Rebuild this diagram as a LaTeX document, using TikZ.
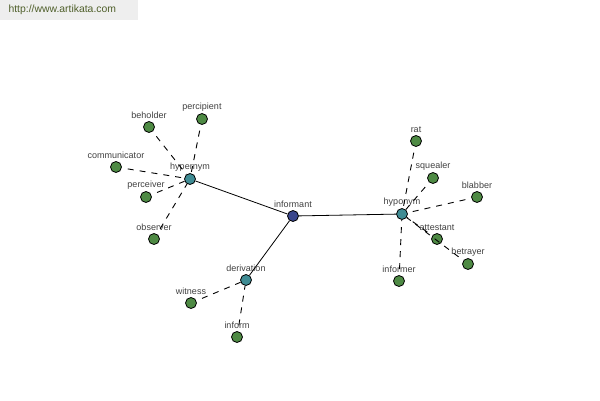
\documentclass[tikz,border=0pt]{standalone}
\usepackage{fontspec}
\setmainfont{Liberation Sans}
\definecolor{leafgreen}{HTML}{4E8A44}
\definecolor{hubteal}{HTML}{3F8C94}
\definecolor{coreblue}{HTML}{3A468C}
\definecolor{bannergray}{HTML}{EEEEEE}
\definecolor{bannertext}{HTML}{4F5F2A}

\begin{document}
\begin{tikzpicture}[x=1pt, y=-1pt, every node/.style={font=\fontsize{9}{10}\selectfont, text=black!75},
	every label/.style={inner sep=1pt}, label distance=1pt,
	word/.style={circle, draw=black, line width=0.8pt, minimum size=11pt, inner sep=0pt},
	leaf/.style={word, fill=leafgreen}, hub/.style={word, fill=hubteal}, core/.style={word, fill=coreblue},
	link/.style={line width=0.8pt},
	rel/.style={line width=0.9pt, dash pattern=on 6pt off 6pt, shorten <=6pt}]
	\useasboundingbox (0,0) rectangle (600,400);
	\fill[bannergray] (0,0) rectangle (138,20);
	\node[anchor=west, text=bannertext, font=\fontsize{10.4}{12}\selectfont] (site) at (5,10) {http://www.artikata.com};

	\node[core, label=above:informant] (informant) at (293,216) {};
	\node[hub, label=above:hypernym] (hypernym) at (190,179) {};
	\node[hub, label=above:hyponym] (hyponym) at (402,214) {};
	\node[hub, label=above:derivation] (derivation) at (246,280) {};

	\node[leaf, label=above:beholder] (beholder) at (149,127) {};
	\node[leaf, label=above:percipient] (percipient) at (202,119) {};
	\node[leaf, label=above:communicator] (communicator) at (116,167) {};
	\node[leaf, label=above:perceiver] (perceiver) at (146,197) {};
	\node[leaf, label=above:observer] (observer) at (154,239) {};

	\node[leaf, label=above:rat] (rat) at (416,141) {};
	\node[leaf, label=above:squealer] (squealer) at (433,178) {};
	\node[leaf, label=above:blabber] (blabber) at (477,197) {};
	\node[leaf, label=above:attestant] (attestant) at (437,239) {};
	\node[leaf, label=above:betrayer] (betrayer) at (468,264) {};
	\node[leaf, label=above:informer] (informer) at (399,281) {};

	\node[leaf, label=above:witness] (witness) at (191,303) {};
	\node[leaf, label=above:inform] (inform) at (237,337) {};

	\path[link]
	(informant) edge (hypernym)
	(informant) edge (hyponym)
	(informant) edge (derivation);

	\path[rel]
	(beholder) edge (hypernym)
	(percipient) edge (hypernym)
	(communicator) edge (hypernym)
	(perceiver) edge (hypernym)
	(observer) edge (hypernym)
	(rat) edge (hyponym)
	(squealer) edge (hyponym)
	(blabber) edge (hyponym)
	(attestant) edge (hyponym)
	(betrayer) edge (hyponym)
	(informer) edge (hyponym)
	(witness) edge (derivation)
	(inform) edge (derivation);
\end{tikzpicture}
\end{document}
